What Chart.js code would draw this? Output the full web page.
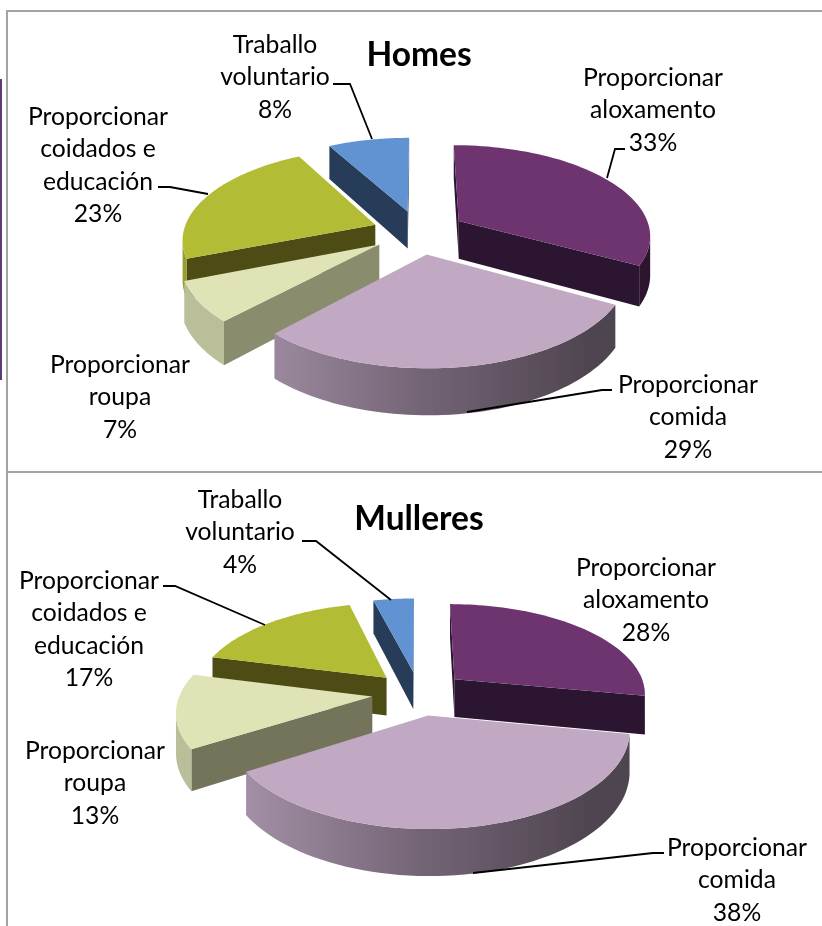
<!DOCTYPE html>
<html>
<head>
<meta charset="utf-8">
<script src="https://cdn.jsdelivr.net/npm/chart.js@4"></script>
<style>
  html, body { margin: 0; padding: 0; background: #fff; width: 822px; height: 926px; overflow: hidden; }
  canvas { position: absolute; left: 8px; }
  .line { position: absolute; background: #a3a3a3; }
</style>
</head>
<body>
<div class="line" style="left:0;top:79px;width:2px;height:301px;background:#5f3c78"></div>
<div class="line" style="left:6px;top:10px;width:816px;height:2px"></div>
<div class="line" style="left:6px;top:10px;width:2px;height:916px"></div>
<div class="line" style="left:6px;top:471px;width:816px;height:2px"></div>
<div style="position:absolute;left:0;top:0;width:822px;height:472px"><canvas id="homes"></canvas></div>
<div style="position:absolute;left:0;top:472px;width:822px;height:454px"><canvas id="mulleres"></canvas></div>
<script>
  const categories = [
    ['Proporcionar', 'aloxamento'],
    ['Proporcionar', 'comida'],
    ['Proporcionar', 'roupa'],
    ['Proporcionar', 'coidados e', 'educación'],
    ['Traballo', 'voluntario']
  ];
  const homesValues = [33, 29, 7, 23, 8];
  const mulleresValues = [28, 38, 13, 17, 4];

  const topColors = ['#6d346f', '#c1a9c4', '#dfe3b6', '#b3bc35', '#6193d2'];
  const homesSides = ['#2c1530', '#4f434e', '#8a8c6e', '#4c4c14', '#273c59'];
  const mulleresSides = ['#2c1530', '#4f434e', '#74745a', '#4c4c14', '#273c59'];

  // page coordinates, centre x + y of the first text line, then the leader line
  const homesLabels = [
    { x: 653, y: 78, line: [[625, 149], [615, 149], [607, 178]] },
    { x: 688, y: 385, line: [[612, 390], [602, 390], [467, 412]] },
    { x: 120, y: 365 },
    { x: 98, y: 117, line: [[158, 187], [170, 187], [208, 194]] },
    { x: 275, y: 45, line: [[333, 84], [350, 84], [372, 139]] }
  ];
  const mulleresLabels = [
    { x: 646, y: 568 },
    { x: 737, y: 848, line: [[664, 853], [653, 853], [473, 873]] },
    { x: 95, y: 751 },
    { x: 89, y: 581, line: [[163, 586], [175, 586], [265, 625]] },
    { x: 240, y: 500, line: [[302, 541], [316, 541], [391, 600]] }
  ];

  const LEFT = 8;
  const TILT = 0.468;
  const PERSP = 0.146;
  const DEPTH = 38.5;
  const EXPLODE = 47;

  function shade(hex, f) {
    const n = parseInt(hex.slice(1), 16);
    return `rgb(${((n >> 16) & 255) * f}, ${((n >> 8) & 255) * f}, ${(n & 255) * f})`;
  }

  // draws the slices the library laid out as a tilted, extruded pie
  const pie3d = {
    id: 'pie3d',
    beforeDatasetDraw(chart, args, opts) {
      const ctx = chart.ctx;
      const arcs = chart.getDatasetMeta(0).data;
      const project = (arc, x, y) => {
        const u = x - arc.x;
        const v = arc.y - y;
        const s = 1 / (1 + PERSP * v / arc.outerRadius);
        return { x: opts.cx + u * s, y: opts.cy - v * TILT * s, d: DEPTH * s };
      };

      const order = arcs.map((a, i) => i).sort((p, q) => {
        const mid = a => (a.startAngle + a.endAngle) / 2;
        return Math.sin(mid(arcs[p])) - Math.sin(mid(arcs[q]));
      });

      ctx.save();
      ctx.translate(-LEFT, -opts.top);
      order.forEach(i => {
        const arc = arcs[i];
        const mid = (arc.startAngle + arc.endAngle) / 2;
        const off = arc.options.offset;
        const ax = arc.x + Math.cos(mid) * off;
        const ay = arc.y + Math.sin(mid) * off;
        const apex = project(arc, ax, ay);
        const rim = [];
        const steps = 60;
        for (let k = 0; k <= steps; k++) {
          const a = arc.startAngle + (arc.endAngle - arc.startAngle) * k / steps;
          rim.push(project(arc, ax + Math.cos(a) * arc.outerRadius, ay + Math.sin(a) * arc.outerRadius));
        }

        const wall = (pts, color) => {
          ctx.beginPath();
          pts.forEach((p, n) => n ? ctx.lineTo(p.x, p.y) : ctx.moveTo(p.x, p.y));
          pts.slice().reverse().forEach(p => ctx.lineTo(p.x, p.y + p.d));
          ctx.closePath();
          ctx.fillStyle = color;
          ctx.fill();
        };

        const top = topColors[i];
        const grad = ctx.createLinearGradient(opts.cx - 170, 0, opts.cx + 170, 0);
        grad.addColorStop(0, shade(top, 0.84));
        grad.addColorStop(0.5, shade(top, 0.6));
        grad.addColorStop(1, shade(top, 0.41));

        // a wall shows when its edge runs leftwards on screen
        const last = rim[steps];
        if (rim[0].x < apex.x) wall([apex, rim[0]], opts.sides[i]);
        const run = rim.filter((p, k) =>
          (k < steps && rim[k + 1].x < p.x) || (k > 0 && p.x < rim[k - 1].x));
        if (run.length > 1) wall(run, grad);
        if (apex.x < last.x) wall([last, apex], opts.sides[i]);

        ctx.beginPath();
        ctx.moveTo(apex.x, apex.y);
        rim.forEach(p => ctx.lineTo(p.x, p.y));
        ctx.closePath();
        ctx.fillStyle = arc.options.backgroundColor;
        ctx.fill();
      });
      ctx.restore();
      return false;
    },
    afterDraw(chart, args, opts) {
      const ctx = chart.ctx;
      const values = chart.data.datasets[0].data;
      ctx.save();
      ctx.translate(-LEFT, -opts.top);
      ctx.font = '24.7px Lato';
      ctx.fillStyle = '#000';
      ctx.textAlign = 'center';
      ctx.textBaseline = 'middle';
      opts.labels.forEach((lab, i) => {
        const lines = chart.data.labels[i].concat(values[i] + '%');
        lines.forEach((t, n) => ctx.fillText(t, lab.x, lab.y + n * 32.5));
        if (lab.line) {
          ctx.beginPath();
          lab.line.forEach((p, n) => n ? ctx.lineTo(p[0], p[1]) : ctx.moveTo(p[0], p[1]));
          ctx.strokeStyle = '#000';
          ctx.lineWidth = 1.8;
          ctx.stroke();
        }
      });
      ctx.restore();
    }
  };

  function makePie(id, title, values, sides, labels, page) {
    const canvas = document.getElementById(id);
    canvas.parentNode.style.overflow = 'hidden';
    return new Chart(canvas, {
      type: 'pie',
      data: {
        labels: categories,
        datasets: [{
          data: values,
          backgroundColor: topColors,
          offset: EXPLODE,
          borderWidth: 0,
          radius: 192
        }]
      },
      options: {
        responsive: false,
        animation: false,
        events: [],
        plugins: {
          legend: { display: false },
          tooltip: { enabled: false },
          title: {
            display: true,
            text: title,
            color: '#000',
            font: { family: 'Lato', size: 33.5, weight: 'bold' },
            padding: { top: page.titleTop, bottom: 0 }
          },
          pie3d: { cx: page.cx, cy: page.cy, top: page.top, sides: sides, labels: labels }
        }
      },
      plugins: [pie3d]
    });
  }

  function size(id, h) {
    const c = document.getElementById(id);
    c.width = 822;
    c.height = h;
    c.style.width = '822px';
    c.style.height = h + 'px';
  }

  size('homes', 472);
  size('mulleres', 454);
  makePie('homes', 'Homes', homesValues, homesSides, homesLabels, { cx: 419, cy: 232, top: 0, titleTop: 35 });
  makePie('mulleres', 'Mulleres', mulleresValues, mulleresSides, mulleresLabels, { cx: 419, cy: 693, top: 472, titleTop: 27 });
</script>
</body>
</html>
